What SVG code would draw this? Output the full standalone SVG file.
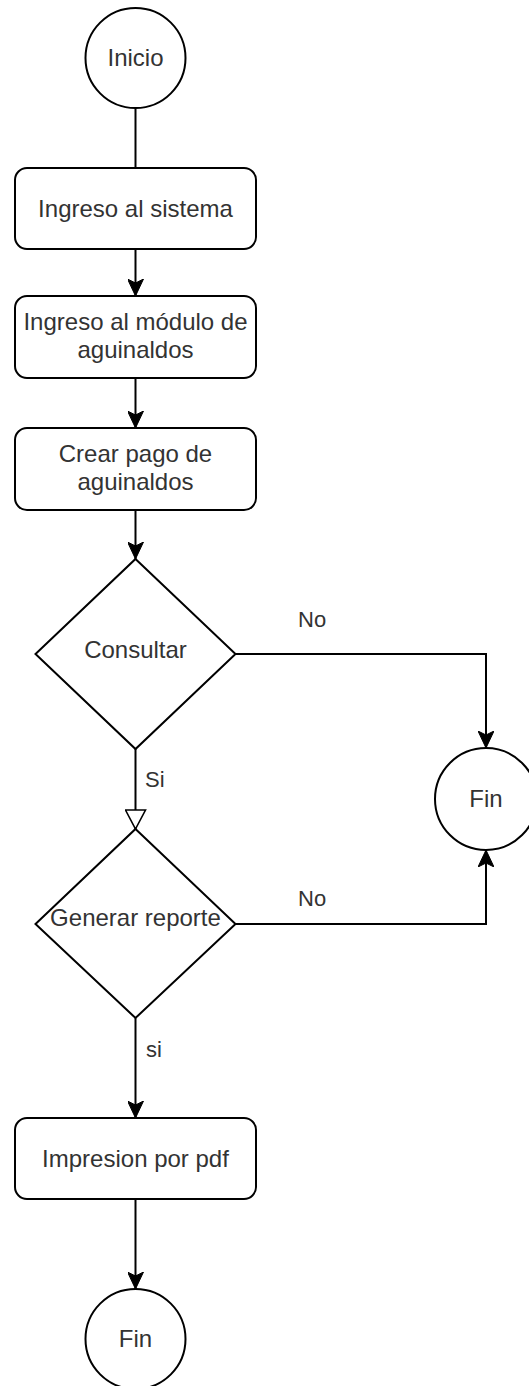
<svg xmlns="http://www.w3.org/2000/svg" width="529" height="1386" viewBox="0 0 529 1386">
  <style>
    .shape { fill: #ffffff; stroke: #000000; stroke-width: 2; }
    .edge { fill: none; stroke: #000000; stroke-width: 2; }
    .arrow { marker-end: url(#classic); }
    .node-text { font-family: "Liberation Sans", Arial, sans-serif; font-size: 24px; fill: #333333; text-anchor: middle; }
    .label { font-family: "Liberation Sans", Arial, sans-serif; font-size: 22px; fill: #333333; }
  </style>
  <defs>
    <marker id="classic" viewBox="0 0 17 16" refX="17" refY="8" markerWidth="17" markerHeight="16" markerUnits="userSpaceOnUse" orient="auto">
      <path d="M17,8 L0,0 L4,8 L0,16 Z" fill="#000000" stroke="#000000" stroke-width="1"/>
    </marker>
    <marker id="block-open" viewBox="-1 -1 21 22" refX="19" refY="10" markerWidth="21" markerHeight="22" markerUnits="userSpaceOnUse" orient="auto">
      <path d="M19,10 L0,0 L0,20 Z" fill="#ffffff" stroke="#000000" stroke-width="1.6"/>
    </marker>
  </defs>

  <g id="connectors">
    <path class="edge" d="M135.5,108 L135.5,168"/>
    <path class="edge arrow" d="M135.5,249 L135.5,296"/>
    <path class="edge arrow" d="M135.5,378 L135.5,428"/>
    <path class="edge arrow" d="M135.5,510 L135.5,559"/>
    <path class="edge arrow" d="M235.5,654 L486,654 L486,748"/>
    <path class="edge" d="M135.5,749 L135.5,829" marker-end="url(#block-open)"/>
    <path class="edge arrow" d="M235.5,924 L486,924 L486,850"/>
    <path class="edge arrow" d="M135.5,1018 L135.5,1118"/>
    <path class="edge arrow" d="M135.5,1199 L135.5,1289"/>
    <text class="label" x="298" y="627">No</text>
    <text class="label" x="145" y="787">Si</text>
    <text class="label" x="298" y="906">No</text>
    <text class="label" x="146" y="1057">si</text>
  </g>

  <g id="inicio">
    <circle class="shape" cx="135.5" cy="58" r="50"/>
    <text class="node-text" x="135.5" y="66">Inicio</text>
  </g>

  <g id="ingreso-sistema">
    <rect class="shape" x="15" y="168" width="241" height="81" rx="12" ry="12"/>
    <text class="node-text" x="135.5" y="217">Ingreso al sistema</text>
  </g>

  <g id="ingreso-modulo">
    <rect class="shape" x="15" y="296" width="241" height="82" rx="12" ry="12"/>
    <text class="node-text" x="135.5" y="330">Ingreso al módulo de</text>
    <text class="node-text" x="135.5" y="358">aguinaldos</text>
  </g>

  <g id="crear-pago">
    <rect class="shape" x="15" y="428" width="241" height="82" rx="12" ry="12"/>
    <text class="node-text" x="135.5" y="462">Crear pago de</text>
    <text class="node-text" x="135.5" y="490">aguinaldos</text>
  </g>

  <g id="consultar">
    <polygon class="shape" points="135.5,559 235.5,654 135.5,749 35.5,654"/>
    <text class="node-text" x="135.5" y="658">Consultar</text>
  </g>

  <g id="fin-derecha">
    <circle class="shape" cx="486" cy="799" r="51"/>
    <text class="node-text" x="486" y="807">Fin</text>
  </g>

  <g id="generar-reporte">
    <polygon class="shape" points="135.5,829 235.5,924 135.5,1018 35.5,924"/>
    <text class="node-text" x="135.5" y="926">Generar reporte</text>
  </g>

  <g id="impresion-pdf">
    <rect class="shape" x="15" y="1118" width="241" height="81" rx="12" ry="12"/>
    <text class="node-text" x="135.5" y="1167">Impresion por pdf</text>
  </g>

  <g id="fin-abajo">
    <circle class="shape" cx="135.5" cy="1339" r="50"/>
    <text class="node-text" x="135.5" y="1347">Fin</text>
  </g>
</svg>
